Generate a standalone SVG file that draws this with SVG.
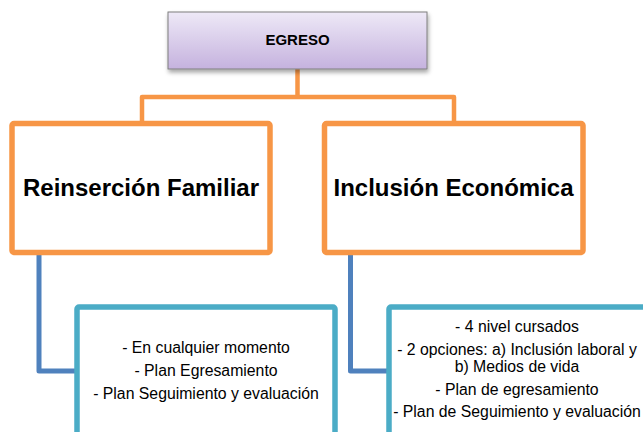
<svg xmlns="http://www.w3.org/2000/svg" width="643" height="432" viewBox="0 0 643 432">
  <defs>
    <linearGradient id="lav" x1="0" y1="0" x2="0" y2="1">
      <stop offset="0" stop-color="#eee9f7"/>
      <stop offset="1" stop-color="#c5b2de"/>
    </linearGradient>
    <filter id="sh" x="-10%" y="-20%" width="130%" height="160%">
      <feDropShadow dx="1" dy="3" stdDeviation="2" flood-color="#000" flood-opacity="0.35"/>
    </filter>
    <style>
      .orange { fill: #ffffff; stroke: #f79646; stroke-width: 5.5; }
      .cyan { fill: #ffffff; stroke: #4bacc6; stroke-width: 5.5; }
      .oline { fill: none; stroke: #f79646; stroke-width: 4.5; stroke-linejoin: round; }
      .bline { fill: none; stroke: #4f81bd; stroke-width: 5; stroke-linejoin: round; }
      .big { font-family: "Liberation Sans", Arial, sans-serif; font-weight: bold; font-size: 24px; fill: #000; text-anchor: middle; }
      .top { font-family: "Liberation Sans", Arial, sans-serif; font-weight: bold; font-size: 15px; fill: #000; text-anchor: middle; }
      .small { font-family: "Liberation Sans", Arial, sans-serif; font-size: 15.8px; fill: #000; text-anchor: middle; }
    </style>
  </defs>

  <g id="connectors">
    <path class="oline" d="M297.5,69 V97"/>
    <path class="oline" d="M142,122 V97 H454 V122"/>
    <path class="bline" d="M39,253 V371 H78"/>
    <path class="bline" d="M350.5,253 V371 H390"/>
  </g>

  <g id="egreso">
    <rect x="168" y="12" width="259" height="57" fill="url(#lav)" stroke="#7f7f7f" stroke-width="1" filter="url(#sh)"/>
    <text class="top" x="297.5" y="45">EGRESO</text>
  </g>

  <g id="reinsercion">
    <rect class="orange" x="12" y="123.5" width="258" height="129" rx="2"/>
    <text class="big" x="141" y="196">Reinserción Familiar</text>
  </g>

  <g id="inclusion">
    <rect class="orange" x="324.5" y="123.5" width="258.5" height="129" rx="2"/>
    <text class="big" x="453.5" y="196">Inclusión Económica</text>
  </g>

  <g id="detalle-reinsercion">
    <rect class="cyan" x="77" y="307" width="258" height="200" rx="2"/>
    <text class="small" x="206" y="353">- En cualquier momento</text>
    <text class="small" x="206" y="376">- Plan Egresamiento</text>
    <text class="small" x="206" y="398.5">- Plan Seguimiento y evaluación</text>
  </g>

  <g id="detalle-inclusion">
    <rect class="cyan" x="389" y="307" width="300" height="200" rx="2"/>
    <text class="small" x="517" y="332">- 4 nivel cursados</text>
    <text class="small" x="517" y="355">- 2 opciones: a) Inclusión laboral y</text>
    <text class="small" x="517" y="372">b) Medios de vida</text>
    <text class="small" x="517" y="395">- Plan de egresamiento</text>
    <text class="small" x="517" y="417">- Plan de Seguimiento y evaluación</text>
  </g>
</svg>
